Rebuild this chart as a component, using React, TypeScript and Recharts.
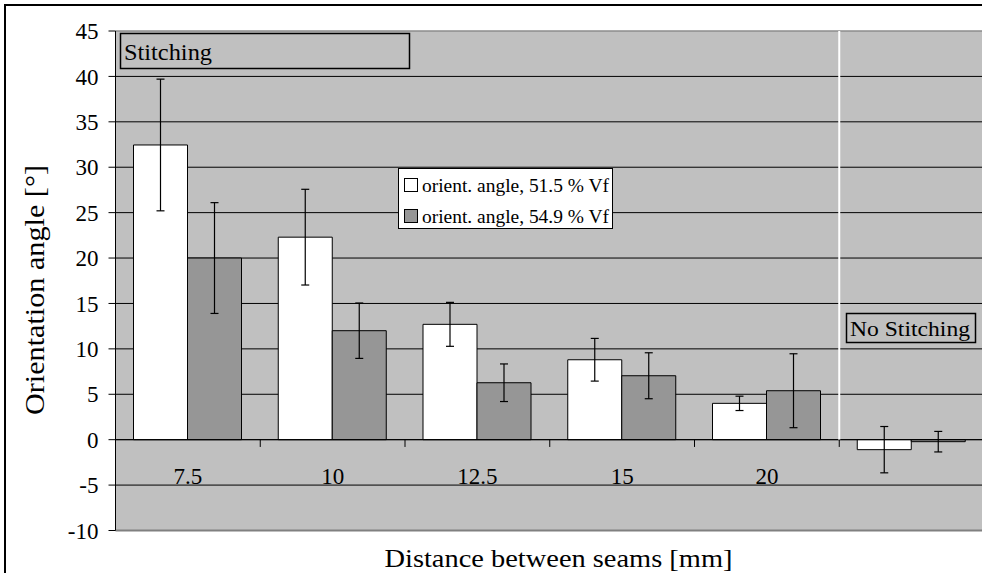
import React from 'react';
import { BarChart, Bar, XAxis, YAxis, CartesianGrid, ErrorBar, ReferenceLine, Legend } from 'recharts';

const categories = ['7.5', '10', '12.5', '15', '20', 'No Stitching'];
const tickLabels = ['7.5', '10', '12.5', '15', '20', ''];
const angle515 = [32.45, 22.3, 12.7, 8.8, 4.0, -1.1];
const err515 = [7.25, 5.27, 2.42, 2.35, 0.79, 2.55];
const angle549 = [20.0, 12.0, 6.27, 7.04, 5.39, -0.22];
const err549 = [6.1, 3.05, 2.07, 2.53, 4.07, 1.13];
const yTicks = [-10, -5, 0, 5, 10, 15, 20, 25, 30, 35, 40, 45];
const gridValues = [-5, 0, 5, 10, 15, 20, 25, 30, 35, 40];
const series = [
  { key: 'a515', err: 'e515', name: 'orient. angle, 51.5 % Vf', color: '#FFFFFF' },
  { key: 'a549', err: 'e549', name: 'orient. angle, 54.9 % Vf', color: '#969696' },
];

const data = categories.map((c, i) => ({
  cat: c,
  a515: angle515[i],
  e515: err515[i],
  a549: angle549[i],
  e549: err549[i],
}));

const FONT = 'Liberation Serif, Times New Roman, serif';

const XTick = (props: any) => {
  const { x, y, payload, index } = props;
  let idx = categories.indexOf(payload && payload.value);
  if (idx < 0) idx = index;
  return (
    <text x={x} y={y - 46.5} textAnchor="middle" fontSize={23} fontFamily={FONT} fill="#000">
      {tickLabels[idx]}
    </text>
  );
};

const renderLegend = (props: any) => {
  const { payload } = props;
  return (
    <svg width={215} height={61} style={{ display: 'block' }}>
      <rect x={0.5} y={0.5} width={214} height={60} fill="#fff" stroke="#000" strokeWidth={1} />
      {payload.map((p: any, i: number) => (
        <g key={i}>
          <rect x={6.5} y={10.5 + i * 31} width={13} height={13} fill={p.color || (p.payload && p.payload.fill)} stroke="#000" strokeWidth={1} />
          <text x={24} y={23.5 + i * 31} fontSize={19} fontFamily={FONT} fill="#000" textLength={187} lengthAdjust="spacingAndGlyphs">
            {p.value}
          </text>
        </g>
      ))}
    </svg>
  );
};

export default function App() {
  return (
    <div style={{ position: 'fixed', left: 0, top: 0, width: 982, height: 573, overflow: 'hidden', background: '#fff' }}>
      <div style={{ position: 'absolute', left: 4, top: 4, width: 1000, height: 600, border: '2px solid #000', boxSizing: 'border-box' }} />
      <div style={{ position: 'absolute', left: 0, top: 0 }}>
        <BarChart
          width={990}
          height={573}
          data={data}
          margin={{ top: 31, right: 6, bottom: 41.5, left: 0 }}
          barGap={0}
          barSize={54}
        >
          <CartesianGrid
            vertical={false}
            horizontalValues={gridValues}
            fill="#C0C0C0"
            stroke="#000"
            strokeWidth={1}
            fillOpacity={1}
          />
          <XAxis
            dataKey="cat"
            height={1}
            axisLine={false}
            tickLine={false}
            tickSize={0}
            tickMargin={0}
            tick={(p: any) => <XTick {...p} />}
            interval={0}
          />
          <YAxis
            type="number"
            domain={[-10, 45]}
            ticks={yTicks}
            width={115.5}
            interval={0}
            axisLine={{ stroke: '#000', strokeWidth: 1 }}
            tickLine={{ stroke: '#000', strokeWidth: 1 }}
            tickSize={7}
            tickMargin={10}
            tick={{ fontSize: 23, fontFamily: FONT, fill: '#000' }}
          />
          <ReferenceLine y={45} stroke="#8C8C8C" strokeWidth={1.5} />
          <ReferenceLine y={-10} stroke="#808080" strokeWidth={2} />
          <ReferenceLine y={0} stroke="#000" strokeWidth={1} />
          <ReferenceLine segment={[{ x: '20', y: 45 }, { x: '20', y: 0 }]} position="end" stroke="#FFFFFF" strokeWidth={2} />
          {categories.slice(0, 5).map((c) => (
            <ReferenceLine key={c} segment={[{ x: c, y: 0 }, { x: c, y: -0.8 }]} position="end" stroke="#000" strokeWidth={1} />
          ))}
          {series.map((s) => (
            <Bar key={s.key} dataKey={s.key} name={s.name} fill={s.color} stroke="#000" strokeWidth={1} isAnimationActive={false}>
              <ErrorBar dataKey={s.err} width={4} stroke="#000" strokeWidth={1.2} direction="y" />
            </Bar>
          ))}
          <Legend
            layout="vertical"
            align="center"
            verticalAlign="middle"
            content={renderLegend}
            wrapperStyle={{ position: 'absolute', left: 398, top: 168, width: 215, height: 61 }}
          />
        </BarChart>
      </div>
      <svg width={982} height={573} style={{ position: 'absolute', left: 0, top: 0, pointerEvents: 'none' }}>
        <rect x={120.5} y={33.5} width={289} height={35} fill="#C0C0C0" stroke="#000" strokeWidth={1.5} />
        <text x={124} y={60} fontSize={23} fontFamily={FONT} fill="#000" textLength={88} lengthAdjust="spacingAndGlyphs">Stitching</text>
        <rect x={846.5} y={313.5} width={129} height={29} fill="#C0C0C0" stroke="#000" strokeWidth={1.5} />
        <text x={850} y={336} fontSize={21} fontFamily={FONT} fill="#000" textLength={120} lengthAdjust="spacingAndGlyphs">No Stitching</text>
        <text transform="translate(44,290) rotate(-90)" textAnchor="middle" fontSize={27} fontFamily={FONT} fill="#000" textLength={250} lengthAdjust="spacingAndGlyphs">Orientation angle [°]</text>
        <text x={558.5} y={567} textAnchor="middle" fontSize={26} fontFamily={FONT} fill="#000" textLength={348} lengthAdjust="spacingAndGlyphs">Distance between seams [mm]</text>
      </svg>
    </div>
  );
}
